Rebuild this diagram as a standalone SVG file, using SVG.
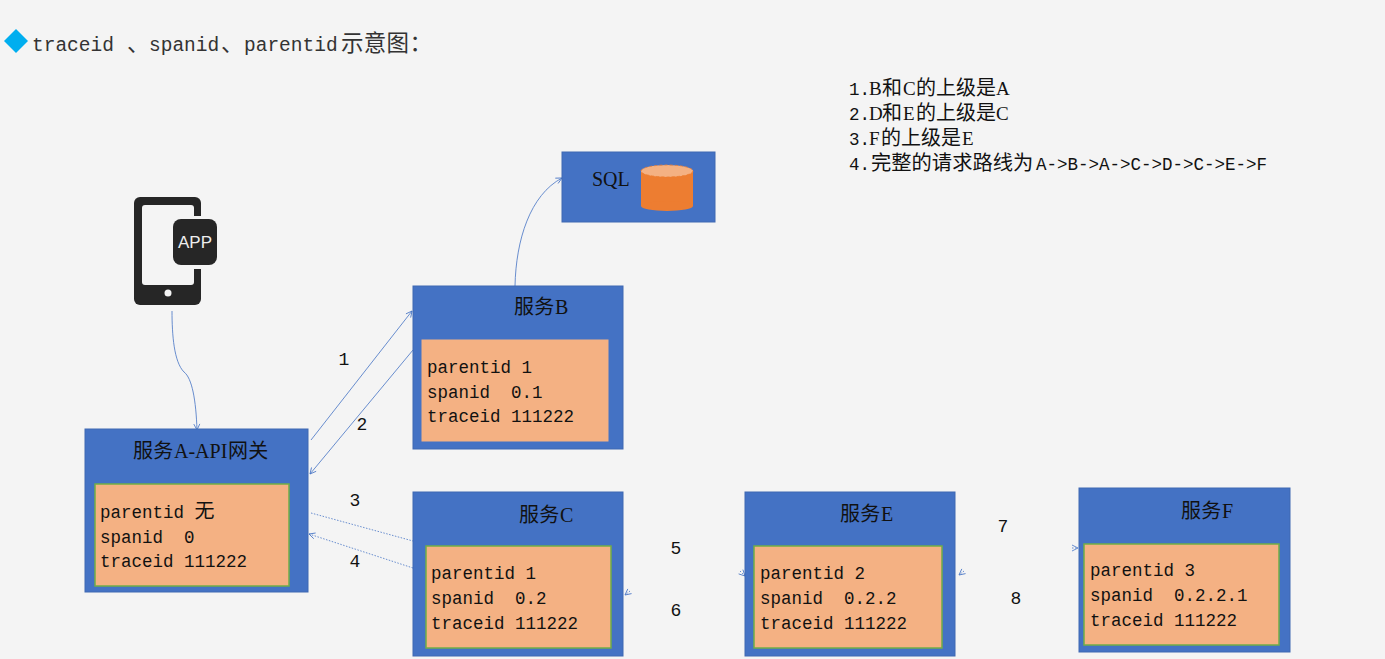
<svg xmlns="http://www.w3.org/2000/svg" width="1385" height="659" viewBox="0 0 1385 659">
<style>
text{font-family:"Liberation Mono","Noto Sans CJK SC",monospace;font-size:17.5px;fill:#111;white-space:pre}
.c{font-family:"Noto Sans CJK SC","Liberation Mono",sans-serif;font-size:20px;letter-spacing:.3px}
.u{font-family:"Liberation Serif","Noto Sans CJK SC",serif;font-size:20px}
.title{font-size:19.5px;fill:#333}
.title .c{font-size:22.5px}
.n{text-anchor:middle;font-size:18px}
.nc{font-family:"Noto Sans CJK SC","Liberation Mono",sans-serif;font-size:20px}
.nl{font-family:"Noto Sans CJK SC","Liberation Mono",sans-serif;font-size:20.3px}
.nu{font-family:"Liberation Serif","Noto Sans CJK SC",serif;font-size:19px}
.box{fill:#4472c4;stroke:#3f68b2;stroke-width:1}
.inner{fill:#f4b183;stroke:#f4b183;stroke-width:1}
.ing{fill:#f4b183;stroke:#70ad47;stroke-width:1.5}
.ln{fill:none;stroke:#4472c4;stroke-width:.8}
.dot{stroke-dasharray:1.5 1.5}
</style>
<defs>
<marker id="a" viewBox="0 0 8 8" refX="7" refY="4" markerWidth="8" markerHeight="8" orient="auto" markerUnits="userSpaceOnUse"><path d="M1 1L7 4L1 7" fill="none" stroke="#4472c4" stroke-width=".8"/></marker>
</defs>
<rect width="1385" height="659" fill="#f4f4f4"/>
<g id="heading">
<path d="M16 29L28 41L16 53L4 41Z" fill="#00aeef"/>
<text class="title" y="51"><tspan x="32">traceid</tspan><tspan x="127" class="c">、</tspan><tspan x="149">spanid</tspan><tspan x="221" class="c">、</tspan><tspan x="244">parentid</tspan><tspan x="341" class="c">示意图：</tspan></text>
</g>
<g id="notes">
<text y="95"><tspan x="849">1.</tspan><tspan x="869" class="nu">B</tspan><tspan x="882" class="nc">和</tspan><tspan x="903" class="nu">C</tspan><tspan x="916" class="nc">的上级是</tspan><tspan x="996" class="nu">A</tspan></text>
<text y="120"><tspan x="849">2.</tspan><tspan x="869" class="nu">D</tspan><tspan x="882" class="nc">和</tspan><tspan x="903" class="nu">E</tspan><tspan x="916" class="nc">的上级是</tspan><tspan x="996" class="nu">C</tspan></text>
<text y="145"><tspan x="849">3.</tspan><tspan x="869" class="nu">F</tspan><tspan x="881" class="nc">的上级是</tspan><tspan x="962" class="nu">E</tspan></text>
<text y="170"><tspan x="849">4.</tspan><tspan x="871" class="nl">完整的请求路线为</tspan><tspan x="1036">A-&gt;B-&gt;A-&gt;C-&gt;D-&gt;C-&gt;E-&gt;F</tspan></text>
</g>
<g id="connectors">
<path class="ln" d="M172 311C172 335 174 362 184 372C192 378 196 400 197 430" marker-end="url(#a)"/>
<path class="ln" d="M515 286C516 240 530 195 562 178" marker-end="url(#a)"/>
<path class="ln" d="M311 440L412 311" marker-end="url(#a)"/>
<path class="ln" d="M413 350L310 474" marker-end="url(#a)"/>
<path class="ln dot" d="M311 513L413 541"/>
<path class="ln dot" d="M413 568L309 534" marker-end="url(#a)"/>
<path class="ln dot" d="M630 591L625 595" marker-end="url(#a)"/>
<path class="ln dot" d="M740 571L745 576" marker-end="url(#a)"/>
<path class="ln dot" d="M964 571L959 575" marker-end="url(#a)"/>
<path class="ln dot" d="M1072 548L1078 548" marker-end="url(#a)"/>
</g>
<g id="labels">
<text class="n" x="344" y="365">1</text>
<text class="n" x="362" y="430">2</text>
<text class="n" x="355" y="506">3</text>
<text class="n" x="355" y="567">4</text>
<text class="n" x="676" y="554">5</text>
<text class="n" x="676" y="616">6</text>
<text class="n" x="1003" y="532">7</text>
<text class="n" x="1016" y="604">8</text>
</g>
<g id="app">
<rect x="134" y="197" width="67" height="108" rx="6" fill="#262626"/>
<rect x="142" y="205" width="52" height="80" rx="3" fill="#f4f4f4"/>
<rect x="190" y="216" width="13" height="53" fill="#f4f4f4"/>
<circle cx="168" cy="293" r="3.5" fill="#f4f4f4"/>
<rect x="173" y="219" width="44" height="46" rx="8" fill="#262626"/>
<text x="195" y="248" text-anchor="middle" style="font-family:'Liberation Sans',sans-serif;font-size:17px;fill:#eee">APP</text>
</g>
<g id="sql">
<rect class="box" x="562" y="152" width="153" height="70"/>
<text x="592" y="186" class="u">SQL</text>
<rect x="641" y="170" width="52" height="36" fill="#ed7d31"/>
<ellipse cx="667" cy="206" rx="26" ry="5" fill="#ed7d31"/>
<ellipse cx="667" cy="171" rx="26" ry="6" fill="#f4b183" stroke="#ed7d31" stroke-width=".8" stroke-dasharray="3 2"/>
</g>
<g id="svc-a">
<rect class="box" x="85" y="429" width="223" height="163"/>
<rect class="ing" x="95" y="484" width="194" height="102"/>
<text y="458"><tspan x="133" class="c">服务</tspan><tspan x="174" class="u">A-API</tspan><tspan x="228" class="c">网关</tspan></text>
<text x="100" y="518">parentid <tspan class="c">无</tspan></text>
<text x="100" y="543">spanid  0</text>
<text x="100" y="567">traceid 111222</text>
</g>
<g id="svc-b">
<rect class="box" x="413" y="286" width="210" height="163"/>
<rect class="inner" x="422" y="340" width="186" height="101"/>
<text y="314"><tspan x="514" class="c">服务</tspan><tspan x="555" class="u">B</tspan></text>
<text x="427" y="373">parentid 1</text>
<text x="427" y="398">spanid  0.1</text>
<text x="427" y="422">traceid 111222</text>
</g>
<g id="svc-c">
<rect class="box" x="413" y="492" width="210" height="164"/>
<rect class="ing" x="426" y="546" width="185" height="102"/>
<text y="522"><tspan x="519" class="c">服务</tspan><tspan x="560" class="u">C</tspan></text>
<text x="431" y="579">parentid 1</text>
<text x="431" y="604">spanid  0.2</text>
<text x="431" y="629">traceid 111222</text>
</g>
<g id="svc-e">
<rect class="box" x="745" y="492" width="210" height="164"/>
<rect class="ing" x="754" y="546" width="188" height="102"/>
<text y="521"><tspan x="840" class="c">服务</tspan><tspan x="881" class="u">E</tspan></text>
<text x="760" y="579">parentid 2</text>
<text x="760" y="604">spanid  0.2.2</text>
<text x="760" y="629">traceid 111222</text>
</g>
<g id="svc-f">
<rect class="box" x="1079" y="488" width="211" height="164"/>
<rect class="ing" x="1084" y="544" width="195" height="101"/>
<text y="518"><tspan x="1181" class="c">服务</tspan><tspan x="1222" class="u">F</tspan></text>
<text x="1090" y="576">parentid 3</text>
<text x="1090" y="601">spanid  0.2.2.1</text>
<text x="1090" y="626">traceid 111222</text>
</g>
</svg>
